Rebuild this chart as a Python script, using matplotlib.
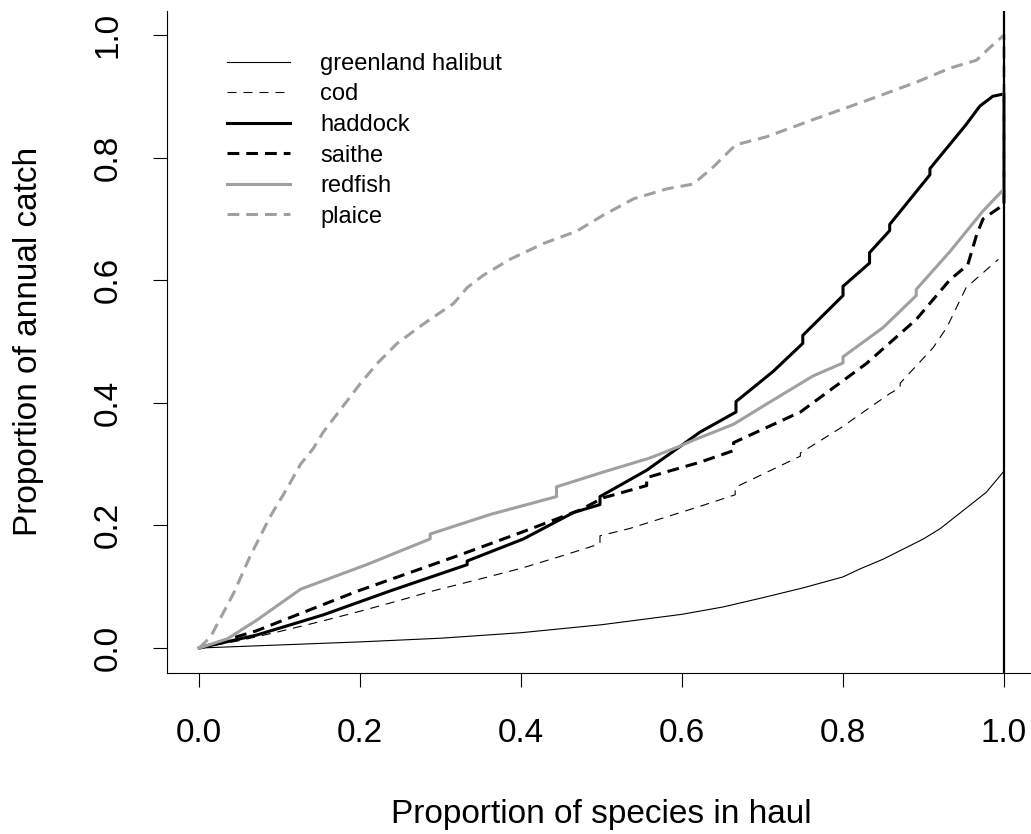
import matplotlib
matplotlib.use('Agg')
import matplotlib.pyplot as plt

plt.rcParams['font.family'] = ['Liberation Sans', 'DejaVu Sans']
plt.rcParams['lines.scale_dashes'] = False

# cumulative catch curves
halibut_x = [0, 0.1, 0.2, 0.3, 0.4, 0.5, 0.6, 0.651, 0.7, 0.75, 0.8, 0.821, 0.85, 0.9, 0.921, 0.95, 0.978, 0.999]
halibut_y = [0, 0.005, 0.01, 0.016, 0.025, 0.038, 0.055, 0.067, 0.082, 0.098, 0.116, 0.129, 0.145, 0.178, 0.195, 0.225, 0.254, 0.287]

cod_x = [0, 0.05, 0.1, 0.15, 0.2, 0.25, 0.287, 0.35, 0.4, 0.45, 0.498, 0.498, 0.535, 0.622, 0.666, 0.666,
         0.747, 0.747, 0.797, 0.858, 0.871, 0.871, 0.912, 0.929, 0.953, 0.993]
cod_y = [0, 0.012, 0.027, 0.043, 0.060, 0.078, 0.092, 0.113, 0.13, 0.15, 0.170, 0.183, 0.195, 0.231, 0.250, 0.262,
         0.313, 0.318, 0.359, 0.415, 0.425, 0.432, 0.490, 0.523, 0.588, 0.634]

haddock_x = [0, 0.071, 0.154, 0.237, 0.333, 0.333, 0.403, 0.465, 0.498, 0.498, 0.556, 0.601, 0.622, 0.667, 0.667,
             0.713, 0.75, 0.75, 0.8, 0.8, 0.833, 0.833, 0.858, 0.858, 0.908, 0.908, 0.953, 0.97, 0.986, 1.0, 1.0]
haddock_y = [0, 0.021, 0.054, 0.093, 0.136, 0.142, 0.178, 0.221, 0.234, 0.247, 0.290, 0.332, 0.352, 0.385, 0.402,
             0.451, 0.497, 0.510, 0.575, 0.590, 0.628, 0.645, 0.681, 0.691, 0.772, 0.782, 0.854, 0.884, 0.900, 0.904, 0.728]

saithe_x = [0, 0.071, 0.1, 0.195, 0.32, 0.403, 0.473, 0.502, 0.556, 0.556, 0.622, 0.664, 0.664, 0.747, 0.829,
            0.891, 0.933, 0.955, 0.966, 0.974, 0.995]
saithe_y = [0, 0.028, 0.043, 0.092, 0.150, 0.190, 0.225, 0.245, 0.265, 0.278, 0.303, 0.322, 0.335, 0.385, 0.464,
            0.536, 0.601, 0.625, 0.674, 0.700, 0.719]

redfish_x = [0, 0.035, 0.071, 0.126, 0.208, 0.287, 0.287, 0.362, 0.444, 0.444, 0.502, 0.56, 0.595, 0.614, 0.664,
             0.705, 0.763, 0.8, 0.8, 0.85, 0.891, 0.891, 0.933, 0.974, 0.998]
redfish_y = [0, 0.015, 0.045, 0.096, 0.136, 0.178, 0.186, 0.218, 0.247, 0.263, 0.287, 0.310, 0.328, 0.339, 0.365,
             0.398, 0.444, 0.465, 0.475, 0.523, 0.575, 0.585, 0.647, 0.713, 0.746]

plaice_x = [0, 0.014, 0.043, 0.063, 0.088, 0.109, 0.126, 0.142, 0.154, 0.179, 0.2, 0.221, 0.246, 0.279, 0.316,
            0.333, 0.353, 0.386, 0.428, 0.469, 0.502, 0.54, 0.581, 0.614, 0.639, 0.659, 0.667, 0.705, 0.767,
            0.829, 0.891, 0.933, 0.966, 0.982, 1.0, 1.0]
plaice_y = [0, 0.018, 0.090, 0.149, 0.214, 0.260, 0.300, 0.326, 0.352, 0.395, 0.431, 0.464, 0.497, 0.529, 0.562,
            0.588, 0.608, 0.634, 0.660, 0.680, 0.706, 0.733, 0.749, 0.757, 0.785, 0.811, 0.821, 0.834, 0.864,
            0.893, 0.923, 0.946, 0.959, 0.979, 1.0, 0.745]

ticks = [0.0, 0.2, 0.4, 0.6, 0.8, 1.0]
grey = '#a0a0a0'
thin_dash = (0, (6.5, 5))
thick_dash = (0, (8.5, 5))

fig = plt.figure(figsize=(10.31, 8.34), dpi=100)
ax = fig.add_axes([0.162, 0.1936, 0.843, 0.7938])

ax.plot(halibut_x, halibut_y, color='black', lw=0.8, label='greenland halibut')
ax.plot(cod_x, cod_y, color='black', lw=0.8, ls=thin_dash, label='cod')
ax.plot(haddock_x, haddock_y, color='black', lw=2.2, label='haddock')
ax.plot(saithe_x, saithe_y, color='black', lw=2.2, ls=thick_dash, label='saithe')
ax.plot(redfish_x, redfish_y, color=grey, lw=2.2, label='redfish')
ax.plot(plaice_x, plaice_y, color=grey, lw=2.2, ls=thick_dash, label='plaice')
ax.axvline(1.0, color='black', lw=1.6)

ax.set_xlim(-0.04, 1.04)
ax.set_ylim(-0.04, 1.04)
ax.set_xticks(ticks)
ax.set_yticks(ticks)
ax.set_xticklabels([f'{t:.1f}' for t in ticks])
ax.set_yticklabels([f'{t:.1f}' for t in ticks], rotation=90, va='center')
ax.tick_params(direction='out', length=10, width=0.8, labelsize=24, pad=21)
ax.tick_params(axis='x', pad=23)
ax.spines['top'].set_visible(False)
ax.spines['right'].set_visible(False)
for s in ('left', 'bottom'):
    ax.spines[s].set_linewidth(0.8)

ax.set_xlabel('Proportion of species in haul', fontsize=24, labelpad=36)
ax.set_ylabel('Proportion of annual catch', fontsize=24, labelpad=35)

ax.legend(loc='upper left', bbox_to_anchor=(227 / 1031, 1 - 53 / 834), bbox_transform=fig.transFigure,
          frameon=False, fontsize=17, handlelength=2.67, handletextpad=1.27, labelspacing=0.36,
          borderpad=0, borderaxespad=0)

plt.savefig('out.png', dpi=100)
plt.close()
